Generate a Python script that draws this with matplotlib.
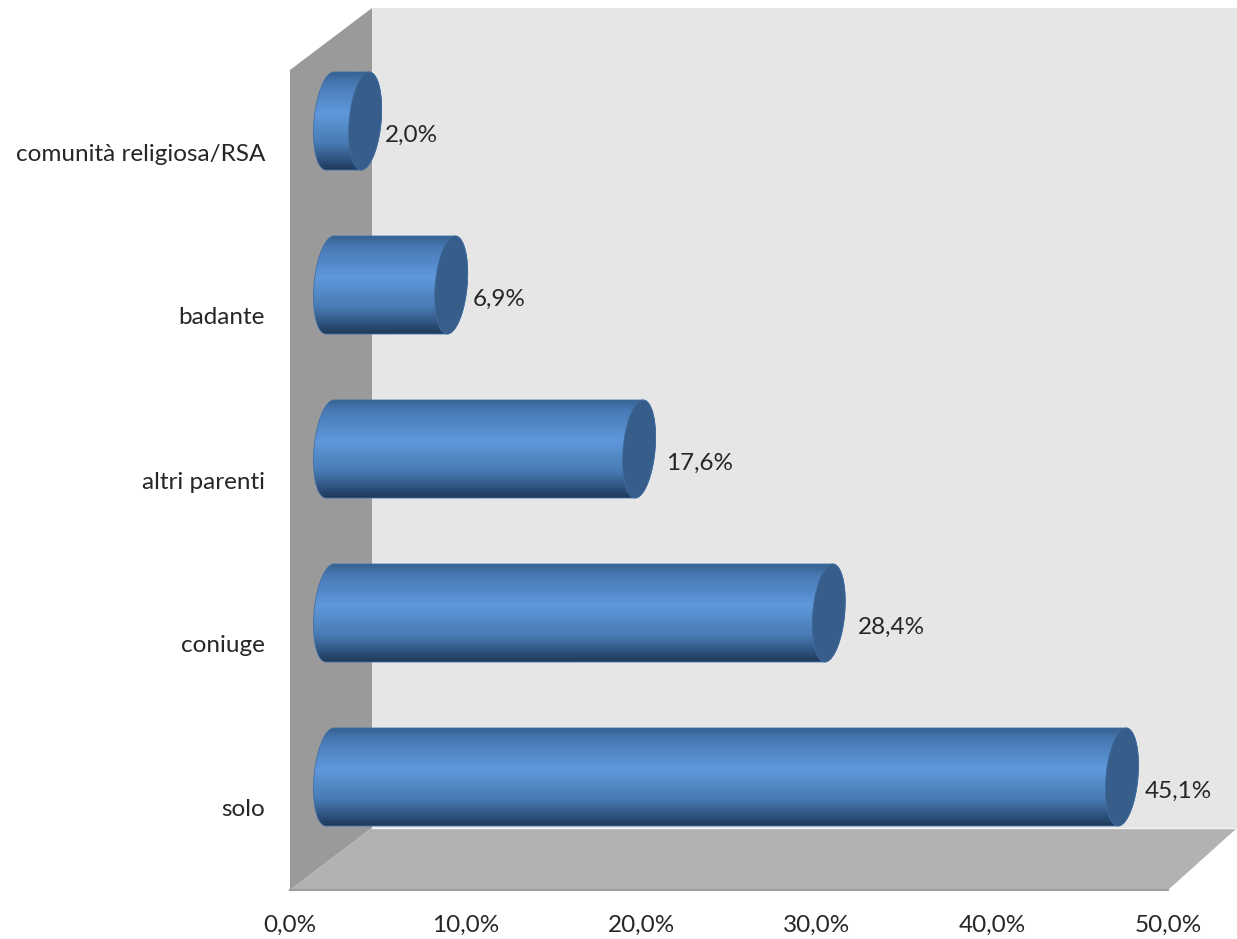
"""Horizontal cylinder bar chart in a 3D looking box."""

import matplotlib

matplotlib.use("Agg")
import matplotlib.pyplot as plt
import numpy as np
from matplotlib.colors import LinearSegmentedColormap
from matplotlib.patches import PathPatch, Polygon
from matplotlib.path import Path
from matplotlib.transforms import Affine2D

categories = ["solo", "coniuge", "altri parenti", "badante", "comunità religiosa/RSA"]
values = [45.1, 28.4, 17.6, 6.9, 2.0]
value_labels = ["45,1%", "28,4%", "17,6%", "6,9%", "2,0%"]
x_ticks = [0, 10, 20, 30, 40, 50]
x_tick_labels = ["0,0%", "10,0%", "20,0%", "30,0%", "40,0%", "50,0%"]

W, H = 1237, 939
LEFT, RIGHT, TOP, BOTTOM = 290, 1168, 8, 890
BAR_ZERO_Y = 777
BAR_STEP = 164
BAR_HALF = 49 / BAR_STEP
PX_PER_UNIT = (RIGHT - LEFT) / 50
DEPTH = 40 / PX_PER_UNIT
CAP_A = 16 / PX_PER_UNIT
CAP_SKEW = 4 / PX_PER_UNIT
# hand placed label gaps, in px from the end of the cylinder
LABEL_GAPS = [7, 13, 11, 6, 4]

plt.rcParams["font.family"] = ["Lato", "DejaVu Sans"]

fig = plt.figure(figsize=(W / 100, H / 100), dpi=100, facecolor="white")
ax = fig.add_axes(
    [LEFT / W, 1 - BOTTOM / H, (RIGHT - LEFT) / W, (BOTTOM - TOP) / H],
    facecolor="none",
)

# image pixel coordinates, y going down
px = Affine2D().scale(1, -1).translate(0, H)


def add_wall(points, color, zorder=1):
    ax.add_patch(
        Polygon(points, closed=True, fc=color, ec="none", transform=px,
                clip_on=False, zorder=zorder)
    )


add_wall([(372, 8), (1237, 8), (1237, 828), (372, 828)], "#e6e6e6")
add_wall([(290, 70), (372, 8), (372, 828), (290, 890)], "#9a9a9a")
add_wall([(290, 890), (372, 828), (1237, 828), (1168, 890)], "#b2b2b2")
ax.plot([290, 1168], [890, 890], color="#9c9c9c", lw=1.5, transform=px,
        clip_on=False, zorder=2)
ax.plot([372, 1237], [828, 828], color="#f2f2f2", lw=1, transform=px,
        clip_on=False, zorder=2)

bar_cmap = LinearSegmentedColormap.from_list(
    "cylinder",
    [
        (0.0, "#36608f"),
        (0.12, "#487ab5"),
        (0.42, "#5f98dc"),
        (0.72, "#4a7cb5"),
        (0.88, "#305682"),
        (1.0, "#1d3858"),
    ],
    N=1024,
)
gradient = np.linspace(0, 1, 512).reshape(-1, 1)
t = np.linspace(0, 2 * np.pi, 90)

for i, value in enumerate(values):
    x0 = DEPTH
    x1 = DEPTH + value
    # right side of the end ellipse first, then back along the left of the start
    right = t[(t <= np.pi / 2) | (t >= 3 * np.pi / 2)]
    right = np.r_[right[right >= 3 * np.pi / 2], right[right <= np.pi / 2]]
    left = np.linspace(np.pi / 2, 3 * np.pi / 2, 45)
    outline = np.r_[
        np.c_[x1 + CAP_A * np.cos(right) + CAP_SKEW * np.sin(right),
              i + BAR_HALF * np.sin(right)],
        np.c_[x0 + CAP_A * np.cos(left) + CAP_SKEW * np.sin(left),
              i + BAR_HALF * np.sin(left)],
    ]
    body = PathPatch(Path(np.r_[outline, outline[:1]]), fc="none", ec="#3f70a8",
                     lw=0.6, zorder=4, clip_on=False)
    ax.add_patch(body)
    img = ax.imshow(gradient, cmap=bar_cmap, aspect="auto", zorder=3,
                    extent=[x0 - 2 * CAP_A, x1 + 2 * CAP_A, i - BAR_HALF, i + BAR_HALF],
                    interpolation="bilinear", interpolation_stage="rgba")
    img.set_clip_path(body)
    cap = np.c_[x1 + CAP_A * np.cos(t) + CAP_SKEW * np.sin(t), i + BAR_HALF * np.sin(t)]
    ax.add_patch(Polygon(cap, closed=True, fc="#375d8b", ec="#3f6c9f", lw=0.6, zorder=5,
                         clip_on=False))
    ax.annotate(value_labels[i], xy=(x1 + CAP_A, i), xytext=(LABEL_GAPS[i] * 0.72, -14.5 * 0.72),
                textcoords="offset points", ha="left", va="center", fontsize=17.5,
                color="#262626", zorder=6)

ax.set_xlim(0, 50)
ax.set_ylim((BAR_ZERO_Y - BOTTOM) / BAR_STEP, (BAR_ZERO_Y - TOP) / BAR_STEP)
for spine in ax.spines.values():
    spine.set_visible(False)

ax.set_xticks(x_ticks, x_tick_labels)
# category labels sit below the middle of their bar
ax.set_yticks(np.arange(len(categories)) - 31 / BAR_STEP, categories)
ax.tick_params(axis="x", length=0, pad=25 * 0.72, labelsize=17.5, labelcolor="#262626")
ax.tick_params(axis="y", length=0, pad=25 * 0.72, labelsize=17.5, labelcolor="#262626")

fig.savefig("out.png", dpi=100)
